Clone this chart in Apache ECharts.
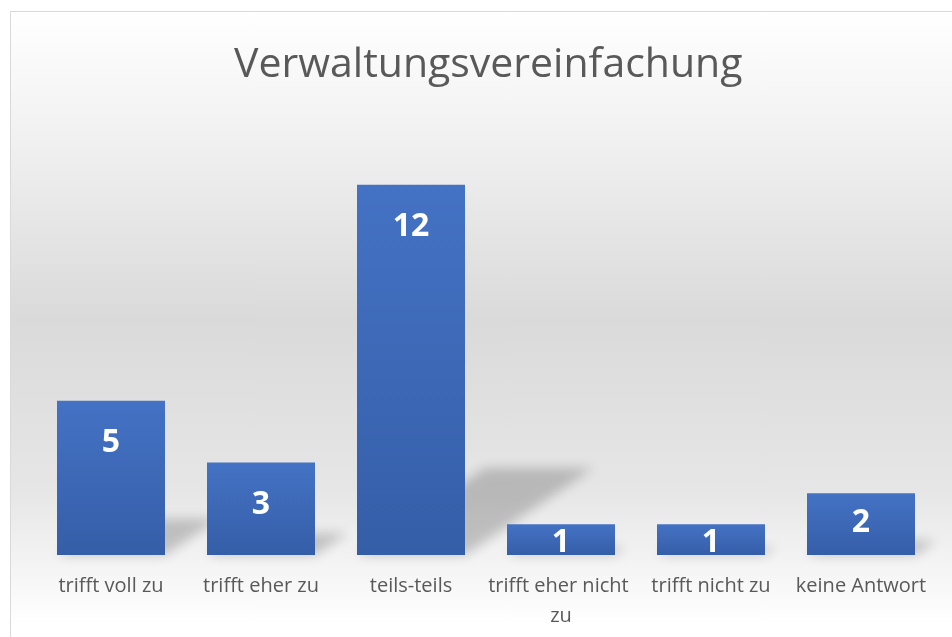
<!DOCTYPE html>
<html><head><meta charset="utf-8">
<script src="https://cdn.jsdelivr.net/npm/echarts@6/dist/echarts.min.js"></script>
<style>
html,body{margin:0;padding:0;background:#fff;width:952px;height:637px;overflow:hidden}
#frame{position:absolute;left:10px;top:11px;width:960px;height:640px;border:1px solid #d9d9d9;box-sizing:border-box;
background:linear-gradient(to bottom, #ffffff 0%, #f2f2f2 18%, #dadada 48%, #e6e6e6 75%, #ffffff 96%);}
#chart{position:absolute;left:0;top:0;width:952px;height:637px}
</style></head>
<body><div id="frame"></div><div id="chart"></div>
<script>
const titleText = 'Verwaltungsvereinfachung';
const categories = ['trifft voll zu','trifft eher zu','teils-teils','trifft eher nicht zu','trifft nicht zu','keine Antwort'];
const values = [5, 3, 12, 1, 1, 2];

const chart = echarts.init(document.getElementById('chart'), null, {renderer:'canvas'});
const fontFam = '"Open Sans", "Noto Sans", sans-serif';

const barData = values.map(v => ({
  value: v,
  label: v >= 3 ? {position:'insideTop', distance: 26} : {position:'inside', offset:[0, v < 2 ? 3 : -1]}
}));

const OFF = 3000;

chart.setOption({
  backgroundColor: 'transparent',
  title: {
    text: titleText, left: 229, top: 40,
    textStyle: {fontFamily: fontFam, fontWeight: 'normal', fontSize: 41, color: '#595959'}
  },
  grid: {left: 36, right: 16, top: 123, bottom: 82},
  xAxis: {
    type: 'category', data: categories,
    axisLine: {show:false}, axisTick: {show:false},
    axisLabel: {fontFamily: fontFam, fontSize: 20, color: '#595959', margin: 16, interval: 0,
      width: 150, overflow: 'break', lineHeight: 30}
  },
  yAxis: {type:'value', min:0, max:14, show:false, splitLine:{show:false}},
  series: [
    {
      type: 'custom', z: 1, silent: true, clip: false,
      data: values.map((v, i) => [i, v]),
      renderItem: function(params, api){
        const idx = api.value(0);
        const v = api.value(1);
        const base = api.coord([idx, 0]);
        const top = api.coord([idx, v]);
        const w = api.size([1,0])[0] * 0.72;
        const h = base[1] - top[1];
        const x1 = base[0] + w/2;
        const x0 = base[0] - w/2;
        const sh = h * 0.235;
        const dx = h * 0.346;
        return {
          type: 'polygon',
          shape: {points: [[x0 - OFF, base[1]], [x1 - OFF, base[1]], [x1 + dx - OFF, base[1]-sh], [x0 + dx - OFF, base[1]-sh]]},
          style: {
            fill: '#000',
            shadowBlur: 12, shadowColor: 'rgba(0,0,0,0.2)', shadowOffsetX: OFF, shadowOffsetY: 0
          }
        };
      },
      encode: {x: 0, y: 1}
    },
    {
      type: 'bar', z: 2,
      data: barData,
      barCategoryGap: '28%',
      itemStyle: {
        color: new echarts.graphic.LinearGradient(0,0,0,1,[
          {offset:0, color:'#4472c4'},
          {offset:1, color:'#355ea8'}
        ])
      },
      label: {show:true, color:'#ffffff', fontFamily: fontFam, fontWeight:'bold', fontSize: 32},
      animation: false
    }
  ],
  animation: false
});
</script></body></html>
